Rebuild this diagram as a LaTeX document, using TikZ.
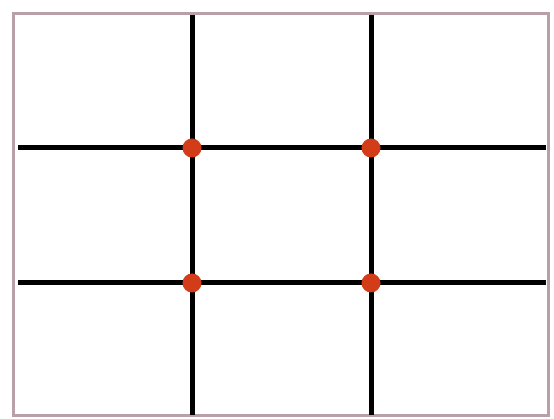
\documentclass[tikz,border=0pt]{standalone}
\definecolor{frame}{HTML}{B9A0A6}
\definecolor{dotred}{HTML}{D23C18}
\tikzset{
  gridline/.style={line width=5pt, black},
  frameline/.style={line width=3pt, frame},
  pt/.style={circle, fill=dotred, inner sep=0pt, minimum size=19pt}
}
\begin{document}
\begin{tikzpicture}[x=1pt,y=-1pt]
\useasboundingbox (0,0) rectangle (554,419);
\fill[white] (0,0) rectangle (554,419);
\draw[frameline] (13,14) rectangle (548,415);
\coordinate (v1t) at (192,15);
\coordinate (v1b) at (192,415);
\coordinate (v2t) at (371,15);
\coordinate (v2b) at (371,415);
\coordinate (h1l) at (18,148);
\coordinate (h1r) at (546,148);
\coordinate (h2l) at (18,283);
\coordinate (h2r) at (546,283);
\draw[gridline] (v1t) -- (v1b);
\draw[gridline] (v2t) -- (v2b);
\draw[gridline] (h1l) -- (h1r);
\draw[gridline] (h2l) -- (h2r);
\node[pt] (p11) at (192,148) {};
\node[pt] (p21) at (371,148) {};
\node[pt] (p12) at (192,283) {};
\node[pt] (p22) at (371,283) {};
\end{tikzpicture}
\end{document}
